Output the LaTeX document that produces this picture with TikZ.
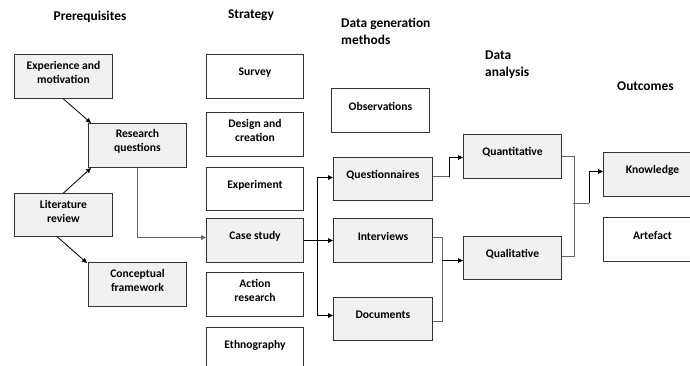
\documentclass[tikz,border=0pt]{standalone}
\usepackage{fontspec}
\setmainfont{Carlito}
\usetikzlibrary{arrows.meta}
\definecolor{boxfill}{HTML}{F1F1F1}
\definecolor{edge}{HTML}{333333}
\definecolor{wire}{HTML}{666666}
\begin{document}
\begin{tikzpicture}[x=1pt,y=-1pt,
  cell/.style={draw=edge, line width=1pt, minimum width=98pt, minimum height=44pt,
    inner sep=0pt, anchor=north west},
  shaded/.style={cell, fill=boxfill},
  txt/.style={font=\bfseries\fontsize{11.6}{14}\selectfont, align=center, yshift=4pt, inner sep=0pt},
  head/.style={font=\bfseries\fontsize{13.4}{17}\selectfont, align=left, inner sep=0pt},
  tip/.style={-{Triangle[length=5pt,width=4.5pt]}},
  dark/.style={draw=black, line width=0.8pt},
  light/.style={draw=wire, line width=1pt}]
\clip (0,0) rectangle (690,365);
\fill[white] (0,0) rectangle (690,365);

% column headings
\node[head] (hpre) at (90,17) {Prerequisites};
\node[head] (hstr) at (251,15) {Strategy};
\node[head, anchor=west] (hgen) at (341,31.5) {Data generation\\methods};
\node[head, anchor=west] (hana) at (485,64.5) {Data\\analysis};
\node[head, anchor=west] (hout) at (617,86) {Outcomes};

% prerequisites
\node[shaded, label={[txt]center:Experience and\\motivation}] (exp) at (14,54) {};
\node[shaded, label={[txt]center:Research\\questions}] (rq) at (88,123) {};
\node[shaded, minimum height=43pt, label={[txt]center:Literature\\review}] (lit) at (14,193) {};
\node[shaded, label={[txt]center:Conceptual\\framework}] (cf) at (88,262) {};

% strategies
\node[cell, minimum width=97pt, label={[txt]center:Survey}] (survey) at (206,54) {};
\node[cell, minimum width=97pt, label={[txt]center:Design and\\creation}] (design) at (206,112) {};
\node[cell, minimum width=97pt, minimum height=43pt, label={[txt]center:Experiment}] (experiment) at (206,167) {};
\node[shaded, minimum width=97pt, label={[txt]center:Case study}] (case) at (206,218) {};
\node[cell, minimum width=97pt, label={[txt]center:Action\\research}] (action) at (206,272) {};
\node[cell, minimum width=97pt, label={[txt]center:Ethnography}] (ethno) at (206,327) {};

% data generation methods
\node[cell, label={[txt]center:Observations}] (obs) at (331,88) {};
\node[shaded, minimum width=99pt, minimum height=43pt, label={[txt]center:Questionnaires}] (quest) at (333,157) {};
\node[shaded, minimum width=99pt, label={[txt]center:Interviews}] (interv) at (333,218) {};
\node[shaded, minimum width=99pt, minimum height=43pt, label={[txt]center:Documents}] (docs) at (333,297) {};

% data analysis
\node[shaded, label={[txt]center:Quantitative}] (quant) at (463,134) {};
\node[shaded, minimum height=43pt, label={[txt]center:Qualitative}] (qual) at (463,236) {};

% outcomes
\node[shaded, label={[txt]center:Knowledge}] (know) at (603,152) {};
\node[cell, label={[txt]center:Artefact}] (arte) at (603,217) {};

% prerequisite links
\draw[dark, tip] (exp.south) -- ([xshift=3pt]rq.north west);
\draw[dark, tip] (lit.north) -- ([xshift=3pt]rq.south west);
\draw[dark, tip] ([xshift=-6pt]lit.south) -- ([xshift=-1pt,yshift=-1pt]cf.north west);
\draw[light, tip] (rq.south) |- ([yshift=3pt]case.west);

% case study to data generation methods
\draw[dark, tip] (case.east) -- (interv.west);
\draw[dark, tip] ([xshift=13pt]case.east) |- ([yshift=1.5pt]quest.west);
\draw[dark, tip] ([xshift=13pt]case.east) |- ([yshift=3.5pt]docs.west);

% methods to analysis
\draw[light] ([yshift=2.5pt]quest.east) -- ++(16,0) coordinate (jq);
\draw[dark, tip] (jq) |- ([yshift=-1pt]quant.west);
\draw[light] ([yshift=3pt]interv.east) -- ++(9,0) coordinate (ji) |- ([yshift=-2.5pt]docs.east);
\draw[dark, tip] (ji |- qual.west) ++(0,2.5) -- ([yshift=-2.5pt]qual.west);

% analysis to outcomes
\draw[light] (quant.east) -- ++(12,0) coordinate (ja) |- ([yshift=1.5pt]qual.east);
\coordinate (jm) at (573,203);
\draw[light] (jm) -- ++(16,0) coordinate (jk);
\draw[dark, tip] (jk) |- ([yshift=3pt]know.west);
\end{tikzpicture}
\end{document}
